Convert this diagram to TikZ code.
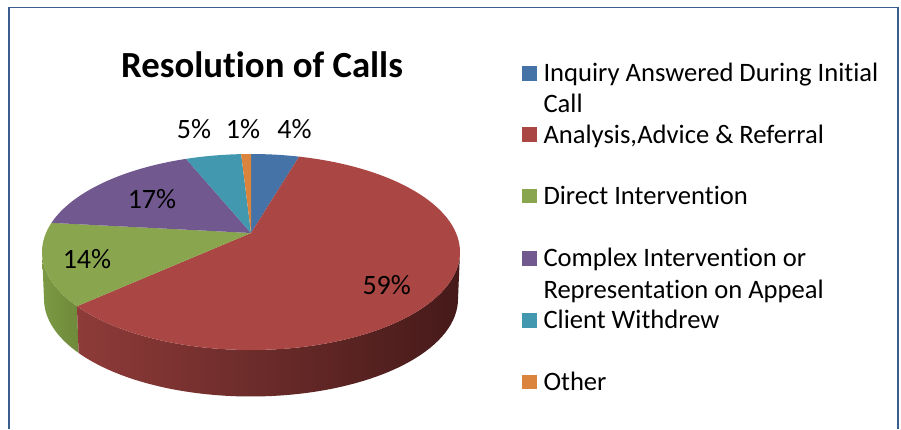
\documentclass[tikz,border=0pt]{standalone}
\usepackage{fontspec}
\setmainfont{Carlito}[Ligatures={NoCommon}]
\definecolor{framec}{HTML}{3A5E8D}
\definecolor{blueT}{HTML}{4572A7}
\definecolor{redT}{HTML}{AA4643}
\definecolor{greenT}{HTML}{89A54E}
\definecolor{purpleT}{HTML}{71588F}
\definecolor{tealT}{HTML}{4198AF}
\definecolor{orangeT}{HTML}{DB843D}
\definecolor{greenS1}{HTML}{7C9944}
\definecolor{greenS2}{HTML}{6E8A3A}
\definecolor{redS1}{HTML}{8E3B39}
\definecolor{redS2}{HTML}{451A19}
\begin{document}
\begin{tikzpicture}[x=1pt,y=-1pt,
  pct/.style={font=\fontsize{28}{34}\selectfont, anchor=base, inner sep=0pt},
  lgtext/.style={font=\fontsize{26.6}{32}\selectfont, anchor=base west, inner sep=0pt},
  lgkey/.style={minimum size=14.5pt, inner sep=0pt, draw=none, fill=#1},
  ttl/.style={font=\fontsize{36.8}{42}\selectfont\bfseries, anchor=base, inner sep=0pt}
]
\useasboundingbox (0,0) rectangle (901,429);
\fill[white] (0,0) rectangle (901,429);
\draw[framec, line width=1.8pt] (9,429) -- (9,7.5) -- (898.3,7.5) -- (898.3,429);

\def\cx{251}\def\cy{252}\def\rx{209}\def\ry{98}
\def\bcy{299}\def\brx{207}\def\bry{97.5}
\coordinate (apex) at (251,233);

% side faces
\shade[left color=greenS1, right color=greenS2]
  plot[domain=146.4:180,samples=20] ({\cx+\rx*cos(\x)},{\cy+\ry*sin(\x)})
  -- plot[domain=180:146.4,samples=20] ({\cx+\brx*cos(\x)},{\bcy+\bry*sin(\x)}) -- cycle;
\shade[left color=redS1, right color=redS2]
  plot[domain=0:146.4,samples=60] ({\cx+\rx*cos(\x)},{\cy+\ry*sin(\x)})
  -- plot[domain=146.4:0,samples=60] ({\cx+\brx*cos(\x)},{\bcy+\bry*sin(\x)}) -- cycle;

% top faces
\fill[blueT] (apex) -- plot[domain=270:283.3,samples=10] ({\cx+\rx*cos(\x)},{\cy+\ry*sin(\x)}) -- cycle;
\fill[redT] (apex) -- plot[domain=283.3:506.4,samples=100] ({\cx+\rx*cos(\x)},{\cy+\ry*sin(\x)}) -- cycle;
\fill[greenT] (apex) -- plot[domain=146.4:197.3,samples=25] ({\cx+\rx*cos(\x)},{\cy+\ry*sin(\x)}) -- cycle;
\fill[purpleT] (apex) -- plot[domain=197.3:251.9,samples=25] ({\cx+\rx*cos(\x)},{\cy+\ry*sin(\x)}) -- cycle;
\fill[tealT] (apex) -- plot[domain=251.9:267.3,samples=10] ({\cx+\rx*cos(\x)},{\cy+\ry*sin(\x)}) -- cycle;
\fill[orangeT] (apex) -- plot[domain=267.3:270,samples=4] ({\cx+\rx*cos(\x)},{\cy+\ry*sin(\x)}) -- cycle;

% title
\node[ttl] (title) at (262,77) {Resolution of Calls};

% percentages
\node[pct] (p4) at (294.5,138) {4\%};
\node[pct] (p1) at (243,138) {1\%};
\node[pct] (p5) at (194,138) {5\%};
\node[pct] (p17) at (152,208) {17\%};
\node[pct] (p14) at (87,268) {14\%};
\node[pct] (p59) at (386.7,294) {59\%};

% legend
\node[lgkey=blueT] (k1) at (529.3,73.7) {};
\node[lgtext] (l1a) at (543.3,81.7) {Inquiry Answered During Initial};
\node[lgtext] (l1b) at (543.3,112.7) {Call};
\node[lgkey=redT] (k2) at (529.3,134.5) {};
\node[lgtext] (l2) at (543.3,143.3) {Analysis,Advice \& Referral};
\node[lgkey=greenT] (k3) at (529.3,196) {};
\node[lgtext] (l3) at (543.3,204) {Direct Intervention};
\node[lgkey=purpleT] (k4) at (529.3,258.7) {};
\node[lgtext] (l4a) at (543.3,266.7) {Complex Intervention or};
\node[lgtext] (l4b) at (543.3,298.3) {Representation on Appeal};
\node[lgkey=tealT] (k5) at (529.3,320.5) {};
\node[lgtext] (l5) at (543.3,328.3) {Client Withdrew};
\node[lgkey=orangeT] (k6) at (529.3,382) {};
\node[lgtext] (l6) at (543.3,390) {Other};
\end{tikzpicture}
\end{document}
